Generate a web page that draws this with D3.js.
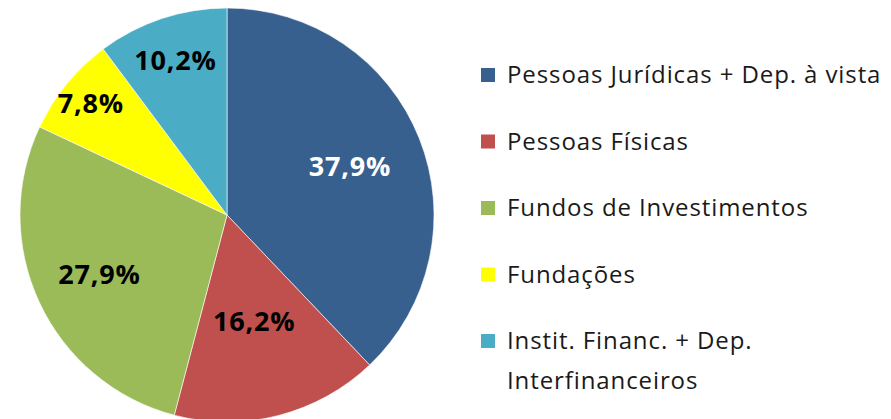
<!DOCTYPE html>
<html>
<head>
<meta charset="utf-8">
<script src="https://cdn.jsdelivr.net/npm/d3@7"></script>
<style>
  body { margin: 0; background: #fff; }
  svg { display: block; }
</style>
</head>
<body>
<svg class="pie" width="891" height="419"></svg>
<script>
const categories = [
  "Pessoas Jurídicas + Dep. à vista",
  "Pessoas Físicas",
  "Fundos de Investimentos",
  "Fundações",
  "Instit. Financ. + Dep. Interfinanceiros"
];
const values = [37.9, 16.2, 27.9, 7.8, 10.2];
const colors = ["#37608f", "#c0504d", "#9bbb59", "#ffff00", "#4bacc6"];
const labelColors = ["#ffffff", "#000000", "#000000", "#000000", "#000000"];
// legend lines (last entry wraps in the original)
const legendLines = [
  ["Pessoas Jurídicas + Dep. à vista"],
  ["Pessoas Físicas"],
  ["Fundos de Investimentos"],
  ["Fundações"],
  ["Instit. Financ. + Dep.", "Interfinanceiros"]
];

function draw() {
  const cx = 227, cy = 215, radius = 207;
  // how far out each label sits, as a share of the radius (Excel "best fit")
  const labelDist = [0.64, 0.53, 0.68, 0.85, 0.79];

  const svg = d3.select('svg.pie');
  const data = categories.map((c, i) => ({name: c, value: values[i], i}));

  const pie = d3.pie()
                .sort(null)
                .value(d => d.value);

  const arc = d3.arc()
                .innerRadius(0)
                .outerRadius(radius);

  const g = svg.append('g')
               .attr('transform', `translate(${cx}, ${cy})`);

  const arcs = pie(data);

  g.selectAll('path.slice')
   .data(arcs)
   .enter()
   .append('path')
   .attr('class', 'slice')
   .attr('d', arc)
   .style('fill', d => colors[d.data.i])
   .style('stroke', '#ffffff')
   .style('stroke-width', '0.6px');

  g.selectAll('text.lbl')
   .data(arcs)
   .enter()
   .append('text')
   .attr('class', 'lbl')
   .attr('transform', d => {
     const r = radius * labelDist[d.data.i];
     const a = (d.startAngle + d.endAngle) / 2;
     return `translate(${Math.sin(a) * r}, ${-Math.cos(a) * r})`;
   })
   .attr('dy', '0.36em')
   .text(d => d3.format('.1f')(d.data.value).replace('.', ',') + '%')
   .style('fill', d => labelColors[d.data.i])
   .style('font-family', "'Open Sans', sans-serif")
   .style('font-weight', 'bold')
   .style('font-size', '27px')
   .style('letter-spacing', '0.8px')
   .style('text-anchor', 'middle');

  // legend
  const legend = svg.append('g')
                    .attr('transform', 'translate(481, 75)');
  const rowStep = 66.5;

  const items = legend.selectAll('g.item')
                      .data(data)
                      .enter()
                      .append('g')
                      .attr('class', 'item')
                      .attr('transform', (d, i) => `translate(0, ${i * rowStep})`);

  items.append('rect')
       .attr('x', 0)
       .attr('y', -7)
       .attr('width', 14)
       .attr('height', 14)
       .style('fill', d => colors[d.i]);

  const texts = items.append('text')
       .attr('x', 26)
       .attr('y', 0)
       .style('fill', '#1a1a1a')
       .style('font-family', "'Open Sans', sans-serif")
       .style('font-size', '24px')
       .style('letter-spacing', '0.9px');

  texts.selectAll('tspan')
       .data(d => legendLines[d.i])
       .enter()
       .append('tspan')
       .attr('x', 26)
       .attr('dy', (d, j) => j === 0 ? '0.35em' : '40px')
       .text(d => d);
}

draw();
</script>
</body>
</html>
